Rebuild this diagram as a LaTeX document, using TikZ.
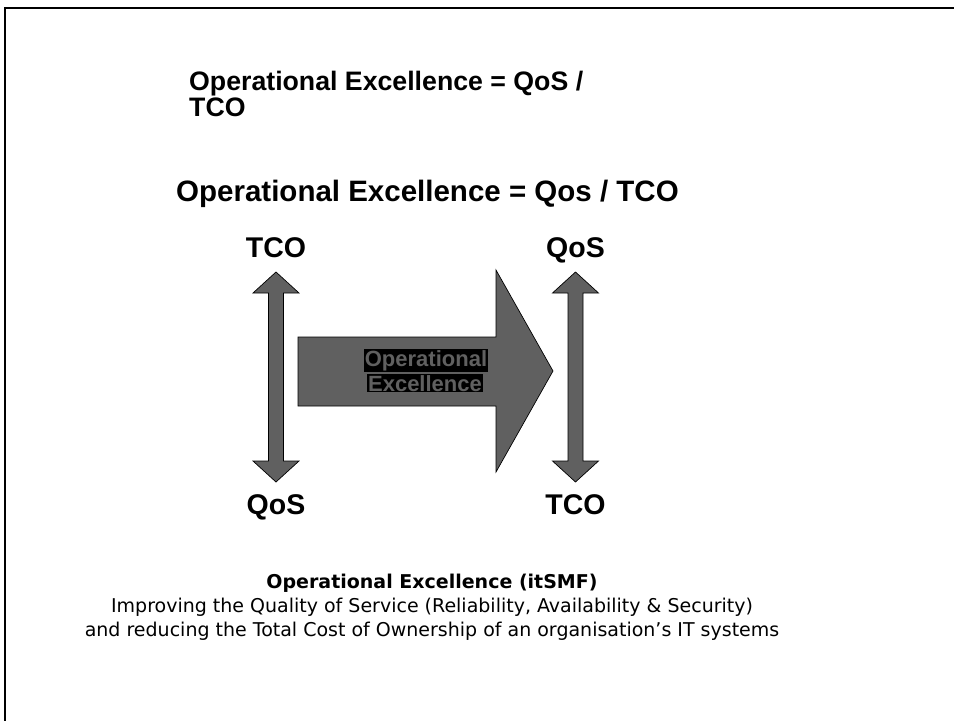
\documentclass[tikz,border=0pt]{standalone}
\usepackage{fontspec}
\setmainfont{Liberation Sans}
\newfontfamily\capfont{DejaVu Sans}
\definecolor{arrowgray}{RGB}{96,96,96}
\tikzset{
  headline/.style={font=\bfseries\fontsize{26.7}{26}\selectfont, inner sep=0pt},
  bigline/.style={font=\bfseries\fontsize{29.5}{30}\selectfont, inner sep=0pt},
  endlabel/.style={font=\bfseries\fontsize{28.5}{28}\selectfont, inner sep=0pt},
  blockarrow/.style={fill=arrowgray, draw=black, line width=0.7pt},
  arrowtext/.style={font=\bfseries\fontsize{22}{22}\selectfont, text=arrowgray, fill=black, inner sep=1pt},
  captext/.style={font=\capfont\fontsize{19}{24}\selectfont, inner sep=0pt}
}
\begin{document}
\begin{tikzpicture}[x=1pt, y=-1pt]
      \useasboundingbox (0,0) rectangle (954,721);
      \draw[line width=2pt] (954,8) -- (5,8) -- (5,721);
      \draw
        (189,90) node[headline, anchor=base west] (title1){Operational Excellence = QoS /}
        (189,116) node[headline, anchor=base west] (title2){TCO}
        (176,201) node[bigline, anchor=base west] (formula){Operational Excellence = Qos / TCO}
        (276,257) node[endlabel, anchor=base] (tcoup){TCO}
        (575.5,257) node[endlabel, anchor=base] (qosup){QoS}
        (276,514) node[endlabel, anchor=base] (qosdown){QoS}
        (575.5,514) node[endlabel, anchor=base] (tcodown){TCO};
      % block arrows
      \draw[blockarrow] (276,272) -- (299,293) -- (283.5,293) -- (283.5,461) -- (299,461) -- (276,482)
        -- (253,461) -- (268.5,461) -- (268.5,293) -- (253,293) -- cycle;
      \draw[blockarrow] (575.5,272) -- (598.5,293) -- (583,293) -- (583,461) -- (598.5,461) -- (575.5,482)
        -- (552.5,461) -- (568,461) -- (568,293) -- (552.5,293) -- cycle;
      \draw[blockarrow] (298,337) -- (496,337) -- (496,270) -- (553,371) -- (496,472) -- (496,406)
        -- (298,406) -- cycle;
      \draw
        (426,366) node[arrowtext, anchor=base] (opword){Operational}
        (425,391) node[arrowtext, anchor=base] (exword){Excellence};
      % caption
      \draw
        (432,588) node[captext, anchor=base, font=\capfont\bfseries\fontsize{19}{24}\selectfont] (capname){Operational Excellence (itSMF)}
        (432,612) node[captext, anchor=base] (capline1){Improving the Quality of Service (Reliability, Availability \& Security)}
        (432,636) node[captext, anchor=base] (capline2){and reducing the Total Cost of Ownership of an organisation’s IT systems};
    \end{tikzpicture}
\end{document}
